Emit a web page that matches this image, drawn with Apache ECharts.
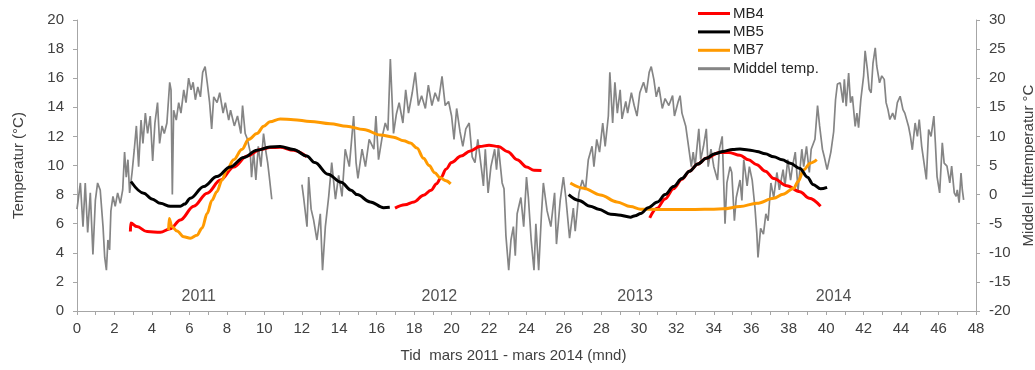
<!DOCTYPE html>
<html>
<head>
<meta charset="utf-8">
<script src="https://cdn.jsdelivr.net/npm/echarts@6/dist/echarts.min.js"></script>
<style>
  html, body { margin: 0; padding: 0; background: #ffffff; overflow: hidden; }
  #chart { width: 1035px; height: 370px; }
</style>
</head>
<body>
<div id="chart"></div>
<script>
// Time axis: months since March 2011. null marks a break in a logger series.

// MB4 borehole temperature (°C, left axis)
const mb4Months = [2.85, 2.87, 3.2, 3.74, 4.45, 4.98, 5.52, 6.23, 6.95, 7.66, 8.37, 9.08, 9.79, 10.3, 10.85, 11.56, 12.27,
  14,
  16.98, 17.5, 18.0, 18.5, 18.9, 19.2, 19.45, 19.7, 20.0, 20.5, 21.0, 21.5, 22.0, 22.5, 23.0, 23.5, 24.0, 24.4, 24.8,
  27,
  30.58, 30.97, 31.4, 31.85, 32.3, 32.7, 33.15, 33.6, 34.3, 34.8, 35.4, 35.85, 36.3, 36.75, 37.2, 37.9, 38.6, 39.1, 39.7];
const mb4Temps = [5.46, 6.05, 5.8, 5.46, 5.41, 5.65, 6.26, 7.2, 8.1, 9.0, 9.9, 10.65, 11.1, 11.23, 11.25, 11.05, 10.6,
  null,
  7.07, 7.3, 7.5, 7.95, 8.3, 8.75, 9.2, 9.75, 10.2, 10.65, 11.0, 11.3, 11.4, 11.3, 10.95, 10.4, 9.9, 9.67, 9.65,
  null,
  6.4, 7.06, 7.7, 8.4, 9.05, 9.6, 10.1, 10.5, 10.9, 10.9, 10.7, 10.4, 10.05, 9.6, 9.1, 8.6, 8.2, 7.75, 7.2];

// MB5 borehole temperature (°C, left axis)
const mb5Months = [2.88, 3.56, 4.0, 4.45, 4.98, 5.52, 5.75, 6.05, 6.77, 7.47, 8.18, 8.9, 9.61, 10.3, 10.85, 11.56, 12.27, 12.7, 13.4, 14.1, 14.64, 14.95, 15.66, 16.37, 16.7,
  20,
  26.25, 26.8, 27.4, 27.85, 28.5, 28.9, 29.55, 29.8, 30.1, 30.5, 31.0, 31.4, 31.85, 32.3, 32.7, 33.15, 33.6, 34.05, 34.5, 35.0, 35.4, 35.85, 36.3, 36.75, 37.2, 37.65, 38.08, 38.6, 39.0, 39.3, 39.7, 40.05];
const mb5Temps = [8.9, 8.1, 7.7, 7.4, 7.2, 7.2, 7.35, 7.75, 8.56, 9.24, 9.9, 10.55, 11.05, 11.28, 11.3, 11.1, 10.65, 10.2, 9.4, 8.85, 8.3, 8.0, 7.5, 7.1, 7.13,
  null,
  8.0, 7.6, 7.2, 7.0, 6.65, 6.6, 6.45, 6.55, 6.7, 7.1, 7.5, 8.0, 8.55, 9.1, 9.6, 10.1, 10.5, 10.8, 10.97, 11.1, 11.13, 11.07, 10.97, 10.8, 10.6, 10.4, 10.16, 9.8, 9.2, 8.7, 8.4, 8.5];

// MB7 borehole temperature (°C, left axis)
const mb7Months = [4.89, 4.92, 5.07, 5.34, 5.7, 6.05, 6.4, 6.68, 6.95, 7.2, 7.47, 7.74, 8.0, 8.37, 8.8, 9.17, 9.61, 9.97, 10.3, 10.85, 11.56, 12.45, 13.52, 14.4, 15.3, 16.2, 16.9, 17.45, 17.8, 18.15, 18.5, 18.8, 19.1, 19.4, 19.7, 19.95,
  22,
  26.34, 27.05, 27.94, 28.83, 29.55, 30.1, 31.0, 32.0, 33.0, 34.0, 34.5, 35.4, 36.3, 37.2, 37.7, 38.27, 38.5, 38.8, 39.15, 39.5];
const mb7Temps = [5.57, 6.36, 5.8, 5.5, 5.1, 5.0, 5.2, 5.7, 6.7, 7.6, 8.2, 9.0, 9.7, 10.4, 11.1, 11.8, 12.2, 12.7, 13.0, 13.2, 13.15, 13.03, 12.87, 12.7, 12.47, 12.1, 11.95, 11.7, 11.55, 11.2, 10.5, 10.0, 9.5, 9.15, 8.95, 8.74,
  null,
  8.8, 8.44, 7.98, 7.5, 7.18, 7.0, 6.98, 6.98, 6.98, 7.0, 7.02, 7.18, 7.4, 7.75, 8.03, 8.44, 8.9, 9.7, 10.16, 10.4];

// Daily mean air temperature (°C, right axis)
const airMonths = [0.0, 0.18, 0.32, 0.44, 0.57, 0.71, 0.85, 0.98, 1.1, 1.24, 1.39, 1.48, 1.57, 1.65, 1.74, 1.81, 1.92, 2.04, 2.17, 2.31, 2.44, 2.54, 2.63, 2.72, 2.81, 2.94,
  3.06, 3.17, 3.29, 3.42, 3.52, 3.65, 3.77, 3.91, 4.04, 4.16, 4.3, 4.41, 4.54, 4.66, 4.8, 4.95, 5.02, 5.09, 5.16, 5.3, 5.43, 5.55, 5.7, 5.82, 5.96,
  6.09, 6.2, 6.32, 6.45, 6.59, 6.71, 6.84, 6.95, 7.08, 7.19, 7.3, 7.48, 7.62, 7.8, 7.92, 8.1, 8.2, 8.4, 8.57, 8.75, 8.84, 8.98,
  9.1, 9.25, 9.32, 9.43, 9.55, 9.68, 9.82, 9.96, 10.09, 10.18, 10.27, 10.4,
  11.2,
  12.01, 12.1, 12.28, 12.37, 12.5, 12.63, 12.81, 12.99, 13.11, 13.26, 13.44, 13.6, 13.8, 13.97, 14.15, 14.32, 14.54, 14.77, 14.9,
  15.0, 15.22, 15.4, 15.6, 15.85, 15.96, 16.1, 16.3, 16.46, 16.6, 16.73, 16.9, 17.05, 17.2, 17.4, 17.55, 17.7, 17.9,
  18.06, 18.23, 18.4, 18.6, 18.76, 18.95, 19.12, 19.3, 19.49, 19.66, 19.84, 20.0, 20.13, 20.27, 20.45, 20.6, 20.76, 20.94,
  21.1, 21.25, 21.4, 21.6, 21.7, 21.8, 21.95, 22.1, 22.3, 22.4, 22.5, 22.7, 22.8, 22.9, 23.05, 23.17, 23.3, 23.4, 23.5, 23.7, 23.85,
  24.0, 24.1, 24.25, 24.4, 24.5, 24.65, 24.8, 24.9, 25.1, 25.3, 25.5, 25.6, 25.8, 25.97, 26.1, 26.3, 26.5, 26.6, 26.8, 26.98,
  27.15, 27.3, 27.5, 27.6, 27.75, 27.9, 28.07, 28.2, 28.37, 28.45, 28.6, 28.72, 28.85, 29.0, 29.1, 29.3, 29.4, 29.6, 29.75, 29.9,
  30.05, 30.25, 30.4, 30.55, 30.66, 30.8, 30.93, 31.07, 31.25, 31.4, 31.6, 31.8, 31.9, 32.1, 32.2, 32.3, 32.5, 32.6, 32.8, 32.9,
  33.0, 33.2, 33.3, 33.45, 33.6, 33.7, 33.85, 34.0, 34.2, 34.3, 34.45, 34.6, 34.7, 34.87, 34.96, 35.1, 35.2, 35.4, 35.5, 35.6, 35.78, 35.9,
  36.05, 36.2, 36.3, 36.36, 36.5, 36.65, 36.78, 36.9, 37.05, 37.2, 37.37, 37.5, 37.7, 37.8, 37.95, 38.1, 38.2, 38.35, 38.5, 38.7, 38.8, 38.95,
  39.1, 39.2, 39.4, 39.54, 39.65, 39.8, 39.9, 40.05, 40.25, 40.4, 40.5, 40.6, 40.75, 40.9, 40.97, 41.07, 41.2, 41.3, 41.4, 41.55, 41.64, 41.73, 41.85,
  42.0, 42.08, 42.2, 42.3, 42.4, 42.5, 42.62, 42.7, 42.85, 42.97, 43.1, 43.2, 43.3, 43.4, 43.55, 43.67, 43.8, 43.95,
  44.1, 44.2, 44.4, 44.5, 44.6, 44.75, 44.87, 44.97, 45.1, 45.2, 45.35, 45.47, 45.6, 45.75, 45.83, 45.92,
  46.06, 46.2, 46.3, 46.45, 46.6, 46.7, 46.84, 46.94, 47.0, 47.1, 47.2, 47.27, 47.34];
const airTemps = [-2.5, 2.0, -5.5, 2.0, -6.5, 0.3, -10.3, -1.0, 2.0, 0.8, -5.5, -10.8, -13.0, -7.8, -9.5, -2.8, -0.3, -2.0, 0.3, -1.5, 0.8, 7.3, 3.0, 6.0, 0.3, 3.8,
  7.8, 11.8, 4.8, 12.8, 8.8, 14.0, 10.5, 13.5, 5.8, 12.3, 15.8, 8.8, 11.8, 10.5, 12.3, 19.3, 18.0, 0.0, 14.5, 12.8, 15.8, 14.0, 18.0, 15.8, 20.0,
  18.0, 19.3, 16.3, 18.5, 16.8, 21.0, 22.0, 19.3, 15.8, 11.3, 16.8, 15.8, 17.5, 14.0, 15.8, 12.8, 14.5, 11.8, 13.5, 10.5, 15.3, 10.5,
  9.5, 7.3, 3.0, 7.3, 2.5, 8.3, 4.8, 10.5, 7.3, 5.5, 3.0, -0.8,
  null,
  1.7, -0.5, -5.5, 3.0, -2.5, -4.3, -7.8, -3.3, -13.0, -5.5, -0.3, 5.5, -0.8, 3.3, -0.3, 7.8, 4.8, 13.5, 5.5,
  2.8, 7.8, 4.8, 9.5, 7.8, 13.5, 6.0, 10.0, 12.3, 11.0, 23.3, 10.5, 13.8, 15.8, 12.3, 18.0, 14.0, 17.5,
  21.0, 15.3, 17.0, 14.8, 18.8, 15.3, 17.5, 16.0, 20.3, 15.3, 16.0, 13.5, 9.5, 14.8, 10.8, 8.3, 11.3, 12.3,
  6.5, 5.5, 9.5, 4.3, 1.5, 7.8, 0.3, 4.8, 7.8, 4.3, 8.3, 2.0, 1.0, -7.0, -13.0, -7.8, -5.5, -10.5, -3.3, -0.5, -5.5,
  3.0, -0.5, -7.8, -13.0, -5.0, -13.0, -3.3, 2.0, -2.8, -5.5, 0.3, -8.5, -1.0, 3.0, -0.5, -7.5, -2.3, -6.3, 0.3, 2.5,
  0.8, 6.0, 8.3, 4.8, 9.5, 7.3, 12.3, 8.3, 13.5, 21.0, 12.3, 19.3, 14.0, 18.0, 13.0, 16.0, 14.0, 17.5, 15.3, 13.5,
  17.5, 19.3, 17.5, 21.0, 22.0, 19.8, 16.8, 18.5, 14.8, 16.5, 15.3, 17.0, 13.5, 16.0, 17.0, 14.0, 11.8, 9.5, 4.8, 7.3,
  4.8, 11.3, 6.0, 8.3, 11.3, 4.8, 7.8, 4.8, 2.5, 7.8, 10.0, -5.0, 2.0, 4.8, 3.8, -4.5, -0.5, 2.5, -1.0, 6.0, 1.5, 4.8,
  2.5, -2.3, -6.8, -10.8, -5.8, -6.8, -3.3, -4.5, 2.0, -0.5, 3.8, 0.8, 4.3, 1.5, 6.0, 2.5, 4.8, 7.3, 0.8, 7.8, 4.8, 8.3,
  3.8, 7.8, 9.5, 15.3, 11.8, 7.8, 6.5, 4.3, 7.3, 10.8, 16.3, 19.0, 19.2, 15.8, 19.8, 15.2, 20.9, 15.8, 16.9, 11.7, 14.0, 11.5, 16.3,
  20.4, 24.7, 21.5, 18.1, 17.5, 22.6, 25.2, 22.1, 19.2, 20.4, 19.8, 15.8, 14.6, 12.9, 14.0, 12.9, 15.8, 16.9,
  14.6, 14.0, 11.7, 10.0, 7.7, 12.3, 10.0, 12.9, 8.3, 6.0, 2.6, 11.2, 10.0, 13.5, 8.9, 3.1,
  0.3, 8.9, 5.4, 4.9, 2.0, 4.9, 0.3, -0.3, 0.8, -1.4, 3.7, 0.8, -0.9];

// Year annotations placed on the month / left-axis scale
const yearNames = ['2011', '2012', '2013', '2014'];
const yearMonths = [6.5, 19.35, 29.8, 40.4];
const yearLevel = 1.0;

const seriesNames = ['MB4', 'MB5', 'MB7', 'Middel temp.'];

function toPairs(xs, ys) {
  return xs.map((x, i) => [x, ys[i] === null ? '-' : ys[i]]);
}

const FONT = 'Liberation Sans, Arial, sans-serif';
const AXIS_GREY = '#a6a6a6';
const TEXT = '#404040';

const chart = echarts.init(document.getElementById('chart'), null, { renderer: 'canvas' });

const axisCommon = {
  axisLine: { show: true, lineStyle: { color: AXIS_GREY, width: 1 } },
  axisTick: { show: true, length: 4, lineStyle: { color: AXIS_GREY, width: 1 } },
  splitLine: { show: false },
  nameTextStyle: { color: TEXT, fontSize: 15, fontFamily: FONT }
};

const option = {
  animation: false,
  backgroundColor: '#ffffff',
  grid: { left: 77, right: 59, top: 20, bottom: 59, containLabel: false, outerBoundsMode: 'none' },
  legend: {
    orient: 'vertical',
    left: 698,
    top: 6,
    padding: 0,
    icon: 'rect',
    itemWidth: 32,
    itemHeight: 3,
    itemGap: 3.4,
    data: seriesNames,
    textStyle: { color: '#262626', fontSize: 15, fontFamily: FONT, padding: [0, 0, 0, -2] },
    selectedMode: false
  },
  xAxis: Object.assign({}, axisCommon, {
    type: 'value', min: 0, max: 48, interval: 1,
    axisLabel: {
      color: TEXT, fontSize: 15, fontFamily: FONT, margin: 10,
      formatter: v => (v % 2 === 0 ? String(v) : '')
    },
    name: 'Tid  mars 2011 - mars 2014 (mnd)',
    nameLocation: 'middle',
    nameGap: 37,
    nameTextStyle: { color: TEXT, fontSize: 15, fontFamily: FONT, padding: [0, 26, 0, 0] }
  }),
  yAxis: [
    Object.assign({}, axisCommon, {
      type: 'value', position: 'left', min: 0, max: 20, interval: 2,
      axisLabel: { color: TEXT, fontSize: 15, fontFamily: FONT, margin: 13 },
      name: 'Temperatur (°C)', nameLocation: 'middle', nameRotate: 90, nameGap: 51
    }),
    Object.assign({}, axisCommon, {
      type: 'value', position: 'right', min: -20, max: 30, interval: 5,
      axisLabel: { color: TEXT, fontSize: 15, fontFamily: FONT, margin: 13 },
      name: 'Middel lufttemperatur °C', nameLocation: 'middle', nameRotate: 90, nameGap: 45
    })
  ],
  series: [
    {
      name: 'Middel temp.', type: 'line', yAxisIndex: 1, z: 1,
      data: toPairs(airMonths, airTemps),
      symbol: 'none', connectNulls: false, silent: true,
      lineStyle: { color: '#858585', width: 1.7 },
      itemStyle: { color: '#858585' }
    },
    {
      name: 'MB4', type: 'line', yAxisIndex: 0, z: 3,
      data: toPairs(mb4Months, mb4Temps),
      symbol: 'none', smooth: 0.35, smoothMonotone: 'x', connectNulls: false, silent: true,
      lineStyle: { color: '#ff0000', width: 3 },
      itemStyle: { color: '#ff0000' }
    },
    {
      name: 'MB5', type: 'line', yAxisIndex: 0, z: 4,
      data: toPairs(mb5Months, mb5Temps),
      symbol: 'none', smooth: 0.35, smoothMonotone: 'x', connectNulls: false, silent: true,
      lineStyle: { color: '#000000', width: 3 },
      itemStyle: { color: '#000000' }
    },
    {
      name: 'MB7', type: 'line', yAxisIndex: 0, z: 3,
      data: toPairs(mb7Months, mb7Temps),
      symbol: 'none', smooth: 0.35, smoothMonotone: 'x', connectNulls: false, silent: true,
      lineStyle: { color: '#ff9a00', width: 3 },
      itemStyle: { color: '#ff9a00' }
    },
    {
      name: 'years', type: 'scatter', yAxisIndex: 0, silent: true,
      symbolSize: 0,
      data: yearNames.map((n, i) => ({ name: n, value: [yearMonths[i], yearLevel] })),
      label: {
        show: true, position: 'inside', formatter: p => p.name,
        color: '#262626', fontSize: 16, fontFamily: FONT
      }
    }
  ]
};

chart.setOption(option);
</script>
</body>
</html>
